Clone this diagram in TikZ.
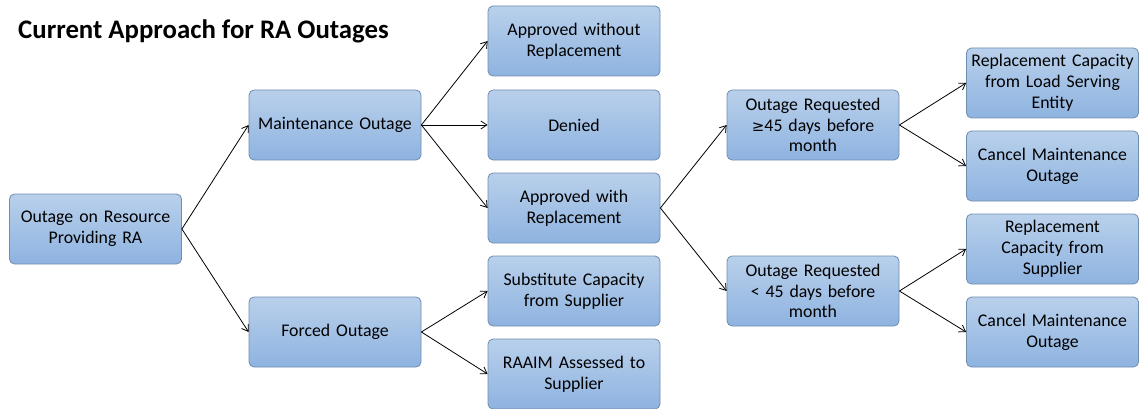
\documentclass[tikz,border=0pt]{standalone}
\usepackage{fontspec}
\setmainfont{Carlito}
\newfontfamily\symfont{DejaVu Sans}
\usetikzlibrary{arrows.meta}
\definecolor{boxtop}{HTML}{B9D0EB}
\definecolor{boxbot}{HTML}{8EB3E0}
\definecolor{boxline}{HTML}{6F8DAF}
\tikzset{
  box/.style={draw=boxline, line width=0.8pt, rounded corners=5pt,
    top color=boxtop, bottom color=boxbot,
    minimum width=170pt, minimum height=70pt, inner sep=2pt,
    text width=168pt, align=center, font=\fontsize{17.8}{20.8}\selectfont},
  conn/.style={-{Straight Barb[length=6pt,width=8pt]}, line width=0.8pt, black}
}
\begin{document}
\begin{tikzpicture}[x=1pt,y=-1pt]
\useasboundingbox (0,0) rectangle (1143,409);
\node[anchor=west, inner sep=0pt, font=\bfseries\fontsize{26.8}{30}\selectfont] (title) at (18,31) {Current Approach for RA Outages};
\node[box] (root) at (95.5,229) {Outage on Resource\\Providing RA};
\node[box] (maint) at (335,125) {Maintenance Outage};
\node[box] (forced) at (335,332) {Forced Outage};
\node[box] (awo) at (574,41) {Approved without\\Replacement};
\node[box] (denied) at (574,125) {Denied};
\node[box] (aw) at (574,208) {Approved with\\Replacement};
\node[box] (sub) at (574,291) {Substitute Capacity\\from Supplier};
\node[box] (raaim) at (574,374) {RAAIM Assessed to\\Supplier};
\node[box] (ge) at (813,125) {Outage Requested\\{\symfont\fontsize{15}{20.8}\selectfont ≥}45 days before\\month};
\node[box] (lt) at (813,291) {Outage Requested\\< 45 days before\\month};
\node[box] (lse) at (1052.5,83) {Replacement Capacity\\from Load Serving\\Entity};
\node[box] (c1) at (1052.5,166) {Cancel Maintenance\\Outage};
\node[box] (rcs) at (1052.5,249) {Replacement\\Capacity from\\Supplier};
\node[box] (c2) at (1052.5,332) {Cancel Maintenance\\Outage};
\draw[conn] (root.east) -- (maint.west);
\draw[conn] (root.east) -- (forced.west);
\draw[conn] (maint.east) -- (awo.west);
\draw[conn] (maint.east) -- (denied.west);
\draw[conn] (maint.east) -- (aw.west);
\draw[conn] (forced.east) -- (sub.west);
\draw[conn] (forced.east) -- (raaim.west);
\draw[conn] (aw.east) -- (ge.west);
\draw[conn] (aw.east) -- (lt.west);
\draw[conn] (ge.east) -- (lse.west);
\draw[conn] (ge.east) -- (c1.west);
\draw[conn] (lt.east) -- (rcs.west);
\draw[conn] (lt.east) -- (c2.west);
\end{tikzpicture}
\end{document}
